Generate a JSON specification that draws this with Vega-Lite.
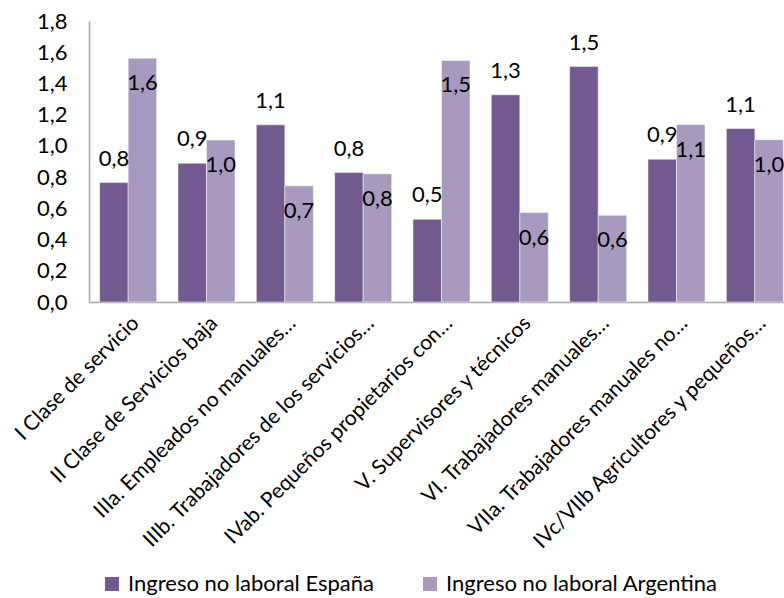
{
  "$schema": "https://vega.github.io/schema/vega-lite/v6.json",
  "autosize": {"type": "none"},
  "padding": {"left": 89, "top": 21, "right": 0, "bottom": 296},
  "width": 705,
  "height": 281,
  "background": "white",
  "config": {
    "locale": {"number": {"decimal": ",", "thousands": ".", "grouping": [3], "currency": ["", " €"]}},
    "font": "Lato",
    "view": {"stroke": null},
    "axis": {"labelFont": "Lato", "labelColor": "#000000"}
  },
  "data": {
    "values": [
      {"cat": "I Clase de servicio", "serie": "Ingreso no laboral España", "valor": 0.765},
      {"cat": "I Clase de servicio", "serie": "Ingreso no laboral Argentina", "valor": 1.562},
      {"cat": "II Clase de Servicios baja", "serie": "Ingreso no laboral España", "valor": 0.889},
      {"cat": "II Clase de Servicios baja", "serie": "Ingreso no laboral Argentina", "valor": 1.038},
      {"cat": "IIIa. Empleados no manuales…", "serie": "Ingreso no laboral España", "valor": 1.135},
      {"cat": "IIIa. Empleados no manuales…", "serie": "Ingreso no laboral Argentina", "valor": 0.744},
      {"cat": "IIIb. Trabajadores de los servicios…", "serie": "Ingreso no laboral España", "valor": 0.829},
      {"cat": "IIIb. Trabajadores de los servicios…", "serie": "Ingreso no laboral Argentina", "valor": 0.821},
      {"cat": "IVab. Pequeños propietarios con…", "serie": "Ingreso no laboral España", "valor": 0.530},
      {"cat": "IVab. Pequeños propietarios con…", "serie": "Ingreso no laboral Argentina", "valor": 1.547},
      {"cat": "V. Supervisores y técnicos", "serie": "Ingreso no laboral España", "valor": 1.327},
      {"cat": "V. Supervisores y técnicos", "serie": "Ingreso no laboral Argentina", "valor": 0.573},
      {"cat": "VI. Trabajadores manuales…", "serie": "Ingreso no laboral España", "valor": 1.508},
      {"cat": "VI. Trabajadores manuales…", "serie": "Ingreso no laboral Argentina", "valor": 0.556},
      {"cat": "VIIa. Trabajadores manuales no…", "serie": "Ingreso no laboral España", "valor": 0.915},
      {"cat": "VIIa. Trabajadores manuales no…", "serie": "Ingreso no laboral Argentina", "valor": 1.137},
      {"cat": "IVc/VIIb Agricultores y pequeños…", "serie": "Ingreso no laboral España", "valor": 1.111},
      {"cat": "IVc/VIIb Agricultores y pequeños…", "serie": "Ingreso no laboral Argentina", "valor": 1.040}
    ]
  },
  "encoding": {
    "x": {
      "field": "cat", "type": "nominal", "sort": null, "title": null,
      "scale": {"paddingInner": 0.272, "paddingOuter": 0.136},
      "axis": {
        "labelAngle": -45, "labelAlign": "right", "labelBaseline": "top",
        "labelFontSize": 21, "labelPadding": 10, "labelDx": 4, "labelLimit": 400, "ticks": false,
        "domainColor": "#A6A6A6", "domainWidth": 1.5, "grid": false
      }
    },
    "xOffset": {
      "field": "serie", "type": "nominal",
      "sort": ["Ingreso no laboral España", "Ingreso no laboral Argentina"],
      "scale": {"paddingInner": 0, "paddingOuter": 0}
    },
    "y": {
      "field": "valor", "type": "quantitative", "title": null,
      "scale": {"domain": [0, 1.8], "nice": false},
      "axis": {
        "values": [0, 0.2, 0.4, 0.6, 0.8, 1.0, 1.2, 1.4, 1.6, 1.8],
        "format": ".1f", "labelFontSize": 22, "labelPadding": 22, "ticks": false,
        "grid": false, "domainColor": "#A6A6A6", "domainWidth": 1.5
      }
    }
  },
  "layer": [
    {
      "mark": {"type": "bar", "stroke": "#ffffff", "strokeWidth": 0.5},
      "encoding": {
        "color": {
          "field": "serie", "type": "nominal",
          "sort": ["Ingreso no laboral España", "Ingreso no laboral Argentina"],
          "scale": {"domain": ["Ingreso no laboral España", "Ingreso no laboral Argentina"], "range": ["#72598F", "#A89ABE"]},
          "legend": {
            "title": null, "orient": "none", "direction": "horizontal",
            "legendX": 12, "legendY": 552, "padding": 0,
            "symbolType": "square", "symbolSize": 196, "symbolStrokeWidth": 0,
            "labelFont": "Lato", "labelFontSize": 22, "labelColor": "#000000",
            "labelOffset": 5, "columnPadding": 45, "labelLimit": 400
          }
        }
      }
    },
    {
      "transform": [{"filter": "datum.serie == 'Ingreso no laboral España'"}],
      "mark": {"type": "text", "dy": -24, "baseline": "middle", "fontSize": 22, "color": "#000000"},
      "encoding": {"text": {"field": "valor", "type": "quantitative", "format": ".1f"}}
    },
    {
      "transform": [{"filter": "datum.serie == 'Ingreso no laboral Argentina'"}],
      "mark": {"type": "text", "dy": 25, "baseline": "middle", "fontSize": 22, "color": "#000000"},
      "encoding": {"text": {"field": "valor", "type": "quantitative", "format": ".1f"}}
    }
  ]
}
